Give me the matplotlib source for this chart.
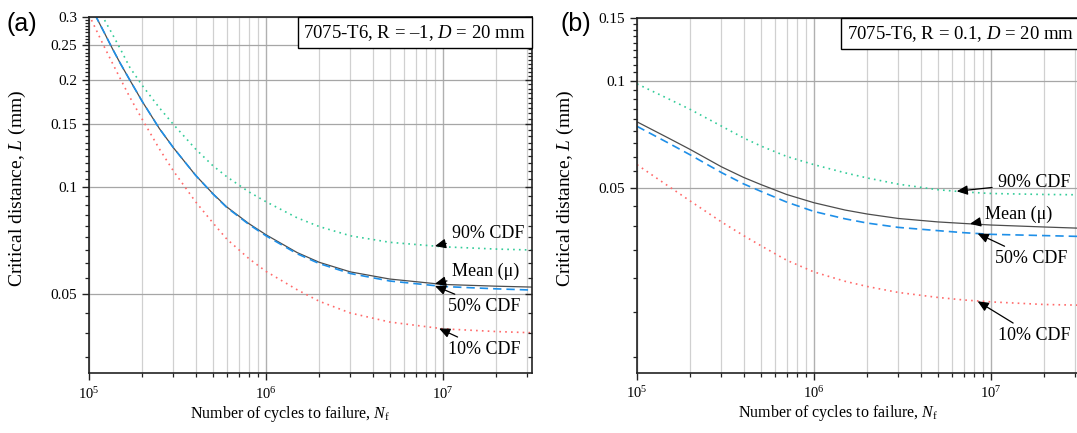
import numpy as np
import matplotlib
matplotlib.use("Agg")
import matplotlib.pyplot as plt
from matplotlib.ticker import FixedLocator, NullFormatter, LogLocator, FuncFormatter
from matplotlib.offsetbox import AnchoredText

plt.rcParams['font.family'] = ['Liberation Serif', 'DejaVu Serif']
plt.rcParams['mathtext.fontset'] = 'custom'
plt.rcParams['mathtext.rm'] = 'Liberation Serif'
plt.rcParams['mathtext.it'] = 'Liberation Serif:italic'
plt.rcParams['mathtext.bf'] = 'Liberation Serif:bold'

# ---------------- data ----------------
# Panel (a): 7075-T6, R = -1
N_a = [1.0e5, 1.1e5, 1.2e5, 1.35e5, 1.5e5, 1.7e5, 2.0e5, 2.5e5, 3.0e5, 4.0e5,
       5.0e5, 6.0e5, 8.0e5, 1.0e6, 1.5e6, 2.0e6, 3.0e6, 5.0e6, 1.0e7, 2.0e7, 3.16e7]
mean_a = [0.330, 0.300, 0.276, 0.246, 0.223, 0.200, 0.174, 0.146, 0.129, 0.108,
          0.096, 0.088, 0.079, 0.0735, 0.0655, 0.0615, 0.0578, 0.0552, 0.0533, 0.0527, 0.0524]
p50_a = [0.330, 0.300, 0.276, 0.246, 0.223, 0.200, 0.174, 0.146, 0.129, 0.108,
         0.0958, 0.0877, 0.0786, 0.0730, 0.0650, 0.0610, 0.0572, 0.0545, 0.0526, 0.0518, 0.0514]
p90_a = [0.365, 0.330, 0.300, 0.270, 0.245, 0.217, 0.193, 0.167, 0.150, 0.128,
         0.115, 0.107, 0.097, 0.091, 0.082, 0.0775, 0.0730, 0.0700, 0.0680, 0.0670, 0.0666]
p10_a = [0.305, 0.276, 0.252, 0.224, 0.202, 0.179, 0.155, 0.128, 0.111, 0.091,
         0.0795, 0.0715, 0.0630, 0.0580, 0.0515, 0.0478, 0.0443, 0.0418, 0.0400, 0.0393, 0.0390]

# Panel (b): 7075-T6, R = 0.1
N_b = [1.0e5, 1.5e5, 2.0e5, 3.0e5, 4.0e5, 5.0e5, 7.0e5, 1.0e6, 1.5e6, 2.0e6,
       3.0e6, 5.0e6, 7.0e6, 1.0e7, 2.0e7, 3.16e7]
mean_b = [0.0766, 0.0690, 0.0640, 0.0572, 0.0534, 0.0510, 0.0478, 0.0453, 0.0432, 0.0421,
          0.0409, 0.0400, 0.0396, 0.0392, 0.0387, 0.0384]
p50_b = [0.0744, 0.0668, 0.0618, 0.0551, 0.0512, 0.0488, 0.0455, 0.0428, 0.0408, 0.0397,
         0.0386, 0.0378, 0.0373, 0.0369, 0.0366, 0.0364]
p90_b = [0.0980, 0.0890, 0.0830, 0.0745, 0.0690, 0.0655, 0.0612, 0.0580, 0.0550, 0.0532,
         0.0511, 0.0493, 0.0486, 0.0481, 0.0478, 0.0477]
p10_b = [0.0580, 0.0505, 0.0458, 0.0400, 0.0366, 0.0343, 0.0312, 0.0289, 0.0272, 0.0263,
         0.0253, 0.0245, 0.0241, 0.0238, 0.0234, 0.0233]

xticks_major = [1e5, 1e6, 1e7]
yticks_a = [0.05, 0.1, 0.15, 0.2, 0.25, 0.3]
yticks_b = [0.05, 0.1, 0.15]
ylim_a = (0.03, 0.3)
ylim_b = (0.015, 0.15)
xlim = (1e5, 10 ** 7.5)

box_a = "7075-T6, R = \u20131, $D$ = 20 mm"
box_b = "7075-T6, R = 0.1, $D$ = 20 mm"

labels = ["90% CDF", "Mean (\u03bc)", "50% CDF", "10% CDF"]

# annotation anchor (on curve) and text positions, in data coordinates
ann_a = [((9.0e6, 0.0683), (1.12e7, 0.0740)),
         ((9.0e6, 0.0535), (1.13e7, 0.0580)),
         ((9.0e6, 0.0528), (1.07e7, 0.0462)),
         ((9.5e6, 0.0401), (1.07e7, 0.0350))]
ann_b = [((6.4e6, 0.0488), (1.09e7, 0.0515)),
         ((7.6e6, 0.0395), (9.3e6, 0.0419)),
         ((8.4e6, 0.0371), (1.05e7, 0.0315)),
         ((8.4e6, 0.0239), (1.09e7, 0.0191))]

# ---------------- styling ----------------
C_MEAN = '#4d4d4d'
C_P50 = '#1e8fe8'
C_P90 = '#33cc99'
C_P10 = '#ff6a6a'

W, H = 1077, 433
fig = plt.figure(figsize=(W / 100, H / 100), dpi=100)
ax_a = fig.add_axes([89 / W, 59.7 / H, 442.5 / W, 356 / H])
ax_b = fig.add_axes([637 / W, 60 / H, 442.5 / W, 354.7 / H])


def y_minors(lo, hi, step):
    sub = step / 9.0
    majors = np.arange(step, hi + 1e-9, step)
    vals = list(np.arange(step, hi + 1e-9, sub))
    vals += [step - i * sub for i in range(1, 20) if step - i * sub > lo]
    return sorted(v for v in vals if all(abs(v - m) > 1e-6 for m in majors))


def style(ax, yt, ylim, box, ann, panel_label, label_x, right_ticks):
    ax.set_xscale('log')
    ax.set_yscale('log')
    ax.set_xlim(*xlim)
    ax.set_ylim(*ylim)
    ax.xaxis.set_major_locator(FixedLocator(xticks_major))
    ax.xaxis.set_minor_locator(LogLocator(base=10, subs=np.arange(2, 10)))
    ax.xaxis.set_minor_formatter(NullFormatter())
    ax.xaxis.set_major_formatter(FuncFormatter(lambda v, p: r'$10^{%d}$' % round(np.log10(v))))
    ax.yaxis.set_major_locator(FixedLocator(yt))
    ax.yaxis.set_major_formatter(FuncFormatter(lambda v, p: ('%g' % v)))
    minors = y_minors(ylim[0], ylim[1], 0.05)
    ax.yaxis.set_minor_locator(FixedLocator(minors))
    ax.yaxis.set_minor_formatter(NullFormatter())

    ax.grid(True, which='major', axis='y', color='#a6a6a6', lw=0.9)
    ax.grid(True, which='major', axis='x', color='#b0b0b0', lw=1.0)
    ax.grid(True, which='minor', axis='x', color='#d0d0d0', lw=0.9)
    ax.set_axisbelow(True)

    for s in ax.spines.values():
        s.set_linewidth(1.2)
        s.set_color('#222222')
    ax.tick_params(axis='both', which='both', direction='out', colors='#222222',
                   labelcolor='black')
    ax.tick_params(axis='y', labelsize=11)
    ax.tick_params(axis='x', labelsize=10.5)
    ax.tick_params(axis='both', which='major', length=5, width=1.0)
    ax.tick_params(axis='both', which='minor', length=3, width=0.9)
    ax.tick_params(axis='x', which='major', pad=4)

    host = ax
    if right_ticks:
        # mirrored inward ticks on the right-hand spine
        axr = ax.twinx()
        axr.set_yscale('log')
        axr.set_ylim(*ylim)
        axr.yaxis.set_major_locator(FixedLocator(yt))
        axr.yaxis.set_minor_locator(FixedLocator(minors))
        axr.yaxis.set_major_formatter(NullFormatter())
        axr.yaxis.set_minor_formatter(NullFormatter())
        axr.tick_params(axis='y', which='both', direction='in', colors='#222222')
        axr.tick_params(axis='y', which='major', length=5, width=1.0)
        axr.tick_params(axis='y', which='minor', length=3, width=0.9)
        for s in axr.spines.values():
            s.set_visible(False)
        host = axr

    ax.set_xlabel('Number of cycles to failure, $N_{\\mathrm{f}}$', fontsize=11.5)
    ax.xaxis.set_label_coords(0.455, -0.085)
    ax.set_ylabel('Critical distance, $L$ (mm)', fontsize=14)
    ax.yaxis.set_label_coords(-0.138, 0.52)

    at = AnchoredText(box, loc='upper right', frameon=True, borderpad=0, pad=0.3,
                      prop=dict(size=13.5))
    at.patch.set_boxstyle('square,pad=0')
    at.patch.set_edgecolor('black')
    at.patch.set_linewidth(1.0)
    at.zorder = 10
    host.add_artist(at)

    for (xy, xyt), lab in zip(ann, labels):
        ax.annotate(lab, xy=xy, xytext=xyt, fontsize=13, ha='left', va='center',
                    arrowprops=dict(arrowstyle='-|>,head_length=0.5,head_width=0.22',
                                    color='black', lw=0.9, shrinkA=2, shrinkB=0))

    fig.text(label_x / W, 1 - 24 / H, panel_label, fontsize=18,
             family=['Liberation Sans', 'DejaVu Sans'], ha='left', va='center')


ax_a.plot(N_a, p90_a, color=C_P90, ls=(0, (1, 2.5)), lw=1.2)
ax_a.plot(N_a, p10_a, color=C_P10, ls=(0, (1, 2.5)), lw=1.2)
ax_a.plot(N_a, mean_a, color=C_MEAN, ls='-', lw=0.9)
ax_a.plot(N_a, p50_a, color=C_P50, ls=(0, (5, 3)), lw=1.2)
style(ax_a, yticks_a, ylim_a, box_a, ann_a, '(a)', 7, True)

ax_b.plot(N_b, p90_b, color=C_P90, ls=(0, (1, 2.5)), lw=1.2)
ax_b.plot(N_b, p10_b, color=C_P10, ls=(0, (1, 2.5)), lw=1.2)
ax_b.plot(N_b, mean_b, color=C_MEAN, ls='-', lw=0.9)
ax_b.plot(N_b, p50_b, color=C_P50, ls=(0, (5, 3)), lw=1.2)
style(ax_b, yticks_b, ylim_b, box_b, ann_b, '(b)', 560, False)

fig.savefig('out.png', dpi=100)
